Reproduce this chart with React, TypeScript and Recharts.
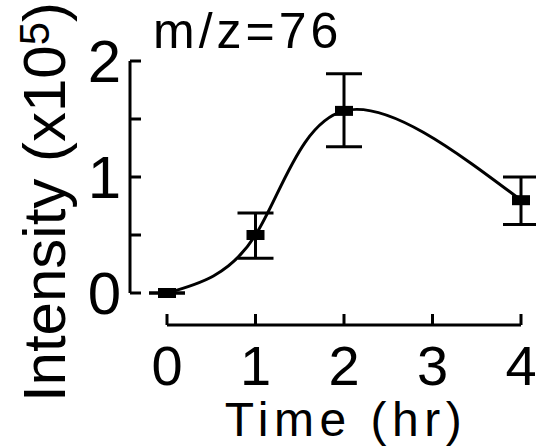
import { ComposedChart, ErrorBar, Line, XAxis, YAxis } from "recharts";

// measured intensities (x10^5) and the ends of their error bars
const times = [0, 1, 2, 4];
const intensity = [0, 0.5, 1.57, 0.8];
const lowerBound = [0, 0.3, 1.26, 0.59];
const upperBound = [0, 0.69, 1.89, 1.0];

const xTicks = [0, 1, 2, 3, 4];
const yTicks = [0, 0.5, 1, 1.5, 2];
const yLabelled = [0, 1, 2];

const title = "m/z=76";
const xTitle = "Time (hr)";

const chartData = times.map((time, i) => ({
  time,
  value: intensity[i],
  err: [intensity[i] - lowerBound[i], upperBound[i] - intensity[i]],
}));

const FONT = '"Liberation Sans", Arial, Helvetica, sans-serif';
const INK = "#000";

function XTick(props: any) {
  const { x, y, payload } = props;
  return (
    <g>
      <line x1={x} x2={x} y1={y} y2={y - 11} stroke={INK} strokeWidth={3} />
      <text x={x} y={y + 60} textAnchor="middle" fontSize={56} fontFamily={FONT} fill={INK}>
        {payload.value}
      </text>
    </g>
  );
}

function YTick(props: any) {
  const { x, y, payload } = props;
  return (
    <g>
      <line x1={x} x2={x + 11} y1={y} y2={y} stroke={INK} strokeWidth={3} />
      {yLabelled.includes(payload.value) && (
        <text x={x - 9} y={y + 21} textAnchor="end" fontSize={60} fontFamily={FONT} fill={INK}>
          {payload.value}
        </text>
      )}
    </g>
  );
}

function Marker(props: any) {
  const { cx, cy, index } = props;
  return <rect key={`m-${index}`} x={cx - 9} y={cy - 5} width={18} height={10} fill={INK} />;
}

function YTitle() {
  return (
    <text x={65} y={202} transform="rotate(-90 65 202)" textAnchor="middle" fontSize={60} fontFamily={FONT} fill={INK}>
      Intensity (x10
      <tspan fontSize={42} dy={-16}>5</tspan>
      <tspan dy={16}>)</tspan>
    </text>
  );
}

function XTitle() {
  return (
    <text x={346} y={436} textAnchor="middle" fontSize={48} fontFamily={FONT} fill={INK} style={{ letterSpacing: 5.5 }}>
      {xTitle}
    </text>
  );
}

export default function App() {
  return (
    <div style={{ position: "absolute", left: 0, top: 0, width: 536, height: 448, background: "#fff" }}>
      <ComposedChart width={536} height={448} data={chartData} margin={{ top: 61, right: 15, bottom: 0, left: 0 }}>
        {/* empty axes first: they sit next to the plot and push the drawn axes outward */}
        <XAxis xAxisId="gap" type="number" domain={[0, 1]} height={32} axisLine={false} tickLine={false} tick={false} />
        <YAxis yAxisId="gap" type="number" domain={[0, 1]} width={37} axisLine={false} tickLine={false} tick={false} />
        <XAxis
          xAxisId="main"
          type="number"
          dataKey="time"
          domain={[0, 4]}
          ticks={xTicks}
          interval={0}
          height={123}
          tickSize={0}
          tickMargin={0}
          tickLine={false}
          axisLine={{ stroke: INK, strokeWidth: 3 }}
          tick={<XTick />}
          label={{ content: () => <XTitle /> }}
        />
        <YAxis
          yAxisId="main"
          type="number"
          domain={[0, 2]}
          ticks={yTicks}
          interval={0}
          width={130}
          tickSize={0}
          tickMargin={0}
          tickLine={false}
          axisLine={{ stroke: INK, strokeWidth: 3 }}
          tick={<YTick />}
          label={{ content: () => <YTitle /> }}
        />
        <Line
          xAxisId="main"
          yAxisId="main"
          type="natural"
          dataKey="value"
          stroke={INK}
          strokeWidth={3}
          dot={Marker}
          activeDot={false}
          isAnimationActive={false}
        >
          <ErrorBar dataKey="err" direction="y" width={18} strokeWidth={3} stroke={INK} isAnimationActive={false} />
        </Line>
      </ComposedChart>
      <svg width={536} height={448} style={{ position: "absolute", left: 0, top: 0, pointerEvents: "none" }}>
        <text x={153} y={48} fontSize={50} fontFamily={FONT} fill={INK} style={{ letterSpacing: 4 }}>
          {title}
        </text>
      </svg>
    </div>
  );
}
